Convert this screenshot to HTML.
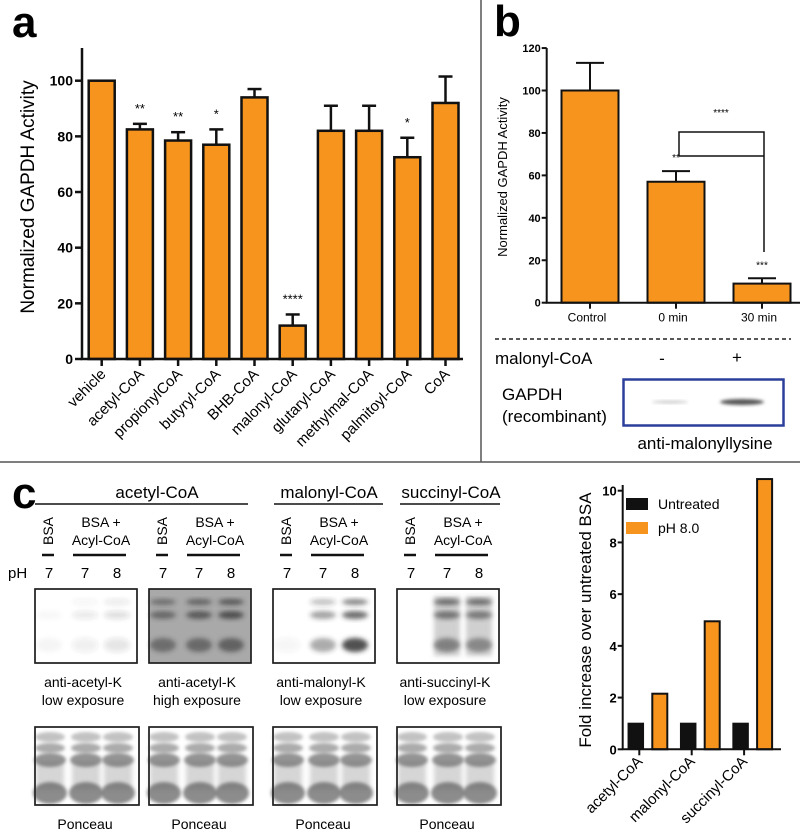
<!DOCTYPE html>
<html><head><meta charset="utf-8"><style>
html,body{margin:0;padding:0;background:#fff;}
svg{display:block;font-family:"Liberation Sans",Arial,sans-serif;}
</style></head><body>
<svg id="fig" width="800" height="840" viewBox="0 0 800 840">
<defs>
<filter id="bl" x="-50%" y="-50%" width="200%" height="200%"><feGaussianBlur stdDeviation="2.5"/></filter>
<filter id="bl2" x="-50%" y="-50%" width="200%" height="200%"><feGaussianBlur stdDeviation="1.5"/></filter>
</defs>
<line x1="0" y1="462" x2="800" y2="462" stroke="#555" stroke-width="1.5"/>
<line x1="481" y1="0" x2="481" y2="462" stroke="#555" stroke-width="1.5"/>

<text x="12" y="37" font-size="44" font-weight="bold">a</text>
<text x="494" y="36" font-size="44" font-weight="bold">b</text>
<text x="12" y="508" font-size="44" font-weight="bold">c</text>

<g id="chartA"></g>
<g id="chartB"></g>

<line x1="495" y1="339" x2="791" y2="339" stroke="#222" stroke-width="1.5" stroke-dasharray="4,3"/>
<text x="495" y="364" font-size="17">malonyl-CoA</text>
<text x="662" y="364" font-size="17" text-anchor="middle">-</text>
<text x="737" y="363" font-size="17" text-anchor="middle">+</text>
<text x="502" y="400" font-size="17">GAPDH</text>
<text x="502" y="422" font-size="17">(recombinant)</text>
<rect x="623.5" y="379.5" width="160" height="46" fill="#fff" stroke="#2b3f9a" stroke-width="2.5"/>
<ellipse cx="670" cy="402" rx="18" ry="1.5" fill="#ccc" filter="url(#bl2)"/>
<ellipse cx="742" cy="402" rx="22" ry="3" fill="#555" filter="url(#bl2)"/>
<text x="705" y="449" font-size="17" text-anchor="middle">anti-malonyllysine</text>

<g id="blots"></g>
<g id="chartC"></g>
</svg>
<script>
const NS="http://www.w3.org/2000/svg";
function mk(p,tag,at,txt){const e=document.createElementNS(NS,tag);for(const k in at)e.setAttribute(k,at[k]);if(txt!==undefined)e.textContent=txt;p.appendChild(e);return e;}
const ORANGE="#f7941d";

const aCategories=["vehicle","acetyl-CoA","propionylCoA","butyryl-CoA","BHB-CoA","malonyl-CoA","glutaryl-CoA","methylmal-CoA","palmitoyl-CoA","CoA"];
const aValues=[100,82.5,78.5,77,94,12,82,82,72.5,92];
const aErrors=[0,2,3,5.5,3,4,9,9,7,9.5];
const aStars=["","**","**","*","","****","","","*",""];
const aTicks=[0,20,40,60,80,100];

(function(){
 const g=document.getElementById('chartA');
 const x0=82,yBase=359,unit=2.783,first=101.7,step=38.2,bw=26;
 const y=v=>yBase-v*unit, xc=i=>first+i*step;
 aCategories.forEach((c,i)=>{
  const cx=xc(i),top=y(aValues[i]);
  if(aErrors[i]>0){
   const l=mk(g,'line',{x1:cx,y1:top,x2:cx,y2:y(aValues[i]+aErrors[i]),stroke:'#111','stroke-width':2.5});
   
   
   const cap=mk(g,'line',{x1:cx-7,y1:y(aValues[i]+aErrors[i]),x2:cx+7,y2:y(aValues[i]+aErrors[i]),stroke:'#111','stroke-width':2.5});
   
   
  }
  const r=mk(g,'rect',{x:cx-bw/2,y:top,width:bw,height:yBase-top,fill:ORANGE,stroke:'#111','stroke-width':2.5});
  
  
  if(aStars[i]){
   const s=mk(g,'text',{x:cx,y:y(aValues[i]+aErrors[i])-11,'font-size':13,'text-anchor':'middle'},aStars[i]);
   
   
  }
  const t=mk(g,'line',{x1:cx,y1:yBase,x2:cx,y2:yBase+7,stroke:'#111','stroke-width':2.5});
  
  
  const lb=mk(g,'text',{transform:`translate(${cx+5},${yBase+16}) rotate(-45)`,'font-size':15,'text-anchor':'end'},c);
  
  
 });
 const ax=mk(g,'path',{d:`M${x0},48 V${yBase} H463`,fill:'none',stroke:'#111','stroke-width':2.5});
 
 
 aTicks.forEach(v=>{
  const t=mk(g,'line',{x1:x0-7,y1:y(v),x2:x0,y2:y(v),stroke:'#111','stroke-width':2.5});
  
  
  const l=mk(g,'text',{x:x0-9,y:y(v)+5,'font-size':14,'font-weight':'bold','text-anchor':'end'},v);
  
  
 });
 const yt=mk(g,'text',{transform:'translate(34,197) rotate(-90)','font-size':19,'text-anchor':'middle'},'Normalized GAPDH Activity');
 
 
})();

const bCategories=["Control","0 min","30 min"];
const bValues=[100,57,9];
const bErrors=[13,5,2.5];
const bStars=["","**","***"];
const bTicks=[0,20,40,60,80,100,120];

(function(){
 const g=document.getElementById('chartB');
 const x0=546.7,yBase=302.7,unit=2.122,first=590,step=86,bw=57;
 const y=v=>yBase-v*unit, xc=i=>first+i*step;
 bCategories.forEach((c,i)=>{
  const cx=xc(i),top=y(bValues[i]),et=y(bValues[i]+bErrors[i]);
  const l=mk(g,'line',{x1:cx,y1:top,x2:cx,y2:et,stroke:'#111','stroke-width':2});
  
  
  const cap=mk(g,'line',{x1:cx-14,y1:et,x2:cx+14,y2:et,stroke:'#111','stroke-width':2});
  
  
  const r=mk(g,'rect',{x:cx-bw/2,y:top,width:bw,height:yBase-top,fill:ORANGE,stroke:'#111','stroke-width':2});
  
  
  if(bStars[i]){
   const s=mk(g,'text',{x:cx,y:et-10,'font-size':10,'text-anchor':'middle'},bStars[i]);
   
   
  }
  const t=mk(g,'line',{x1:cx,y1:yBase,x2:cx,y2:yBase+6,stroke:'#111','stroke-width':2});
  
  
  const lb=mk(g,'text',{x:cx-3,y:yBase+19,'font-size':12,'text-anchor':'middle'},c);
  
  
 });
 const ax=mk(g,'path',{d:`M${x0},48 V${yBase} H800`,fill:'none',stroke:'#111','stroke-width':2});
 
 
 bTicks.forEach(v=>{
  const t=mk(g,'line',{x1:x0-5,y1:y(v),x2:x0,y2:y(v),stroke:'#111','stroke-width':2});
  
  
  const l=mk(g,'text',{x:x0-6,y:y(v)+4,'font-size':11,'font-weight':'bold','text-anchor':'end'},v);
  
  
 });
 const yt=mk(g,'text',{transform:'translate(507,177) rotate(-90)','font-size':13,'text-anchor':'middle'},'Normalized GAPDH Activity');
 
 
 const br=mk(g,'path',{d:'M679,156 V132 H764 V252 M679,156 H764',fill:'none',stroke:'#111','stroke-width':1.5});
 
 
 const st=mk(g,'text',{x:721,y:116,'font-size':10,'text-anchor':'middle'},'****');
 
 
})();

(function(){
 const g=document.getElementById('blots');
 const groups=[["acetyl-CoA",157,35,248],["malonyl-CoA",329,274,383],["succinyl-CoA",451,400,500]];
 groups.forEach(([n,cx,a,b])=>{
  const t=mk(g,'text',{x:cx,y:498,'font-size':17,'text-anchor':'middle'},n);
  
  
  const l=mk(g,'line',{x1:a,y1:504,x2:b,y2:504,stroke:'#111','stroke-width':1.5});
  
  
 });
 const bx=[35,149,273,397];
 const bgs=['#fff','#a9a9a9','#fff','#fff'];
 const lab1=['anti-acetyl-K','anti-acetyl-K','anti-malonyl-K','anti-succinyl-K'];
 const lab2=['low exposure','high exposure','low exposure','low exposure'];
 const ph=mk(g,'text',{x:8,y:578,'font-size':15},'pH');
 
 
 const bands=[
  [[0,.03,.04],[.05,.1,.08],[.1,.15,.12]],
  [[.5,.55,.5],[.6,.65,.55],[.7,.75,.6]],
  [[0,0,.05],[.3,.45,.4],[.6,.7,.85]],
  [[0,0,0],[.8,.7,.6],[.8,.65,.55]]
 ];
 bx.forEach((x,k)=>{
  const lanes=[x+14,x+50,x+82];
  const bs=mk(g,'text',{transform:`translate(${x+18},${545}) rotate(-90)`,'font-size':14},'BSA');
  
  
  const b1=mk(g,'text',{x:x+66,y:527,'font-size':14,'text-anchor':'middle'},'BSA +');
  
  
  const b2=mk(g,'text',{x:x+66,y:545,'font-size':14,'text-anchor':'middle'},'Acyl-CoA');
  
  
  const u1=mk(g,'line',{x1:x+7,y1:555,x2:x+19,y2:555,stroke:'#111','stroke-width':2.5});
  
  
  const u2=mk(g,'line',{x1:x+38,y1:555,x2:x+91,y2:555,stroke:'#111','stroke-width':2.5});
  
  
  ['7','7','8'].forEach((p,j)=>{
   const tp=mk(g,'text',{x:lanes[j],y:578,'font-size':15,'text-anchor':'middle'},p);
   
   
  });
  const r=mk(g,'rect',{x:x,y:589,width:102,height:74,fill:bgs[k],stroke:'#222','stroke-width':1.5});
  
  
  lanes.forEach((lx,j)=>{
   const ys=[602,615,645], rys=[3,4,7];
   bands[k][j].forEach((a,m)=>{
    if(a>0){const e=mk(g,'ellipse',{cx:lx,cy:ys[m],rx:13,ry:rys[m],fill:'#333','fill-opacity':a,filter:'url(#bl)'});
     
     }
   });
  });
  if(k===3){lanes.slice(1).forEach(lx=>{const e=mk(g,'rect',{x:lx-13,y:596,width:26,height:60,fill:'#777','fill-opacity':.35,filter:'url(#bl)'});
   
   });}
  mk(g,'rect',{x:x,y:589,width:102,height:74,fill:'none',stroke:'#222','stroke-width':1.5});
  const l1=mk(g,'text',{x:x+48,y:687,'font-size':14,'text-anchor':'middle'},lab1[k]);
  
  
  const l2=mk(g,'text',{x:x+48,y:705,'font-size':14,'text-anchor':'middle'},lab2[k]);
  
  
  const p=mk(g,'rect',{x:x,y:727,width:104,height:78,fill:'#fff',stroke:'#222','stroke-width':1.5});
  
  
  lanes.forEach(lx=>{
   const s=mk(g,'rect',{x:lx-13,y:762,width:28,height:28,fill:'#999','fill-opacity':.4,filter:'url(#bl)'});
   
   
   [[737,.4,15,5],[748,.55,15,5],[760,.7,16,7],[793,.75,17,11]].forEach(([cy,a,rx,ry])=>{
    const e=mk(g,'ellipse',{cx:lx+1,cy:cy,rx:rx,ry:ry,fill:'#666','fill-opacity':a,filter:'url(#bl2)'});
    
    
   });
  });
  mk(g,'rect',{x:x,y:727,width:104,height:78,fill:'none',stroke:'#222','stroke-width':1.5});
  const pl=mk(g,'text',{x:x+50,y:829,'font-size':14,'text-anchor':'middle'},'Ponceau');
  
  
 });
})();

const cCategories=["acetyl-CoA","malonyl-CoA","succinyl-CoA"];
const cUntreated=[1,1,1];
const cPH8=[2.15,4.95,10.45];
const cTicks=[0,2,4,6,8,10];

(function(){
 const g=document.getElementById('chartC');
 const x0=622.7,yBase=749.3,unit=25.86,first=639.3,step=52.4,bw=15;
 const y=v=>yBase-v*unit, xc=i=>first+i*step;
 cCategories.forEach((c,i)=>{
  const cx=xc(i);
  const r1=mk(g,'rect',{x:cx-11,y:y(cUntreated[i]),width:bw,height:yBase-y(cUntreated[i]),fill:'#111',stroke:'#111','stroke-width':1.5});
  
  
  const r2=mk(g,'rect',{x:cx+13,y:y(cPH8[i]),width:bw,height:yBase-y(cPH8[i]),fill:ORANGE,stroke:'#111','stroke-width':2});
  
  
  const t=mk(g,'line',{x1:cx,y1:yBase,x2:cx,y2:yBase+6,stroke:'#111','stroke-width':2});
  
  
  const lb=mk(g,'text',{transform:`translate(${cx+4},${yBase+13}) rotate(-45)`,'font-size':15,'text-anchor':'end'},c);
  
  
 });
 const ax=mk(g,'path',{d:`M${x0},485 V${yBase} H781`,fill:'none',stroke:'#111','stroke-width':2});
 
 
 cTicks.forEach(v=>{
  const t=mk(g,'line',{x1:x0-5,y1:y(v),x2:x0,y2:y(v),stroke:'#111','stroke-width':2});
  
  
  const l=mk(g,'text',{x:x0-6,y:y(v)+5,'font-size':13,'font-weight':'bold','text-anchor':'end'},v);
  
  
 });
 const yt=mk(g,'text',{transform:'translate(591,620) rotate(-90)','font-size':17,'text-anchor':'middle'},'Fold increase over untreated BSA');
 
 
 const k1=mk(g,'rect',{x:626,y:498,width:22,height:12,fill:'#111'});
 
 
 const t1=mk(g,'text',{x:658,y:509,'font-size':14},'Untreated');
 
 
 const k2=mk(g,'rect',{x:626,y:522,width:22,height:12,fill:ORANGE});
 
 
 const t2=mk(g,'text',{x:658,y:533,'font-size':14},'pH 8.0');
 
 
})();
</script>
</body></html>
